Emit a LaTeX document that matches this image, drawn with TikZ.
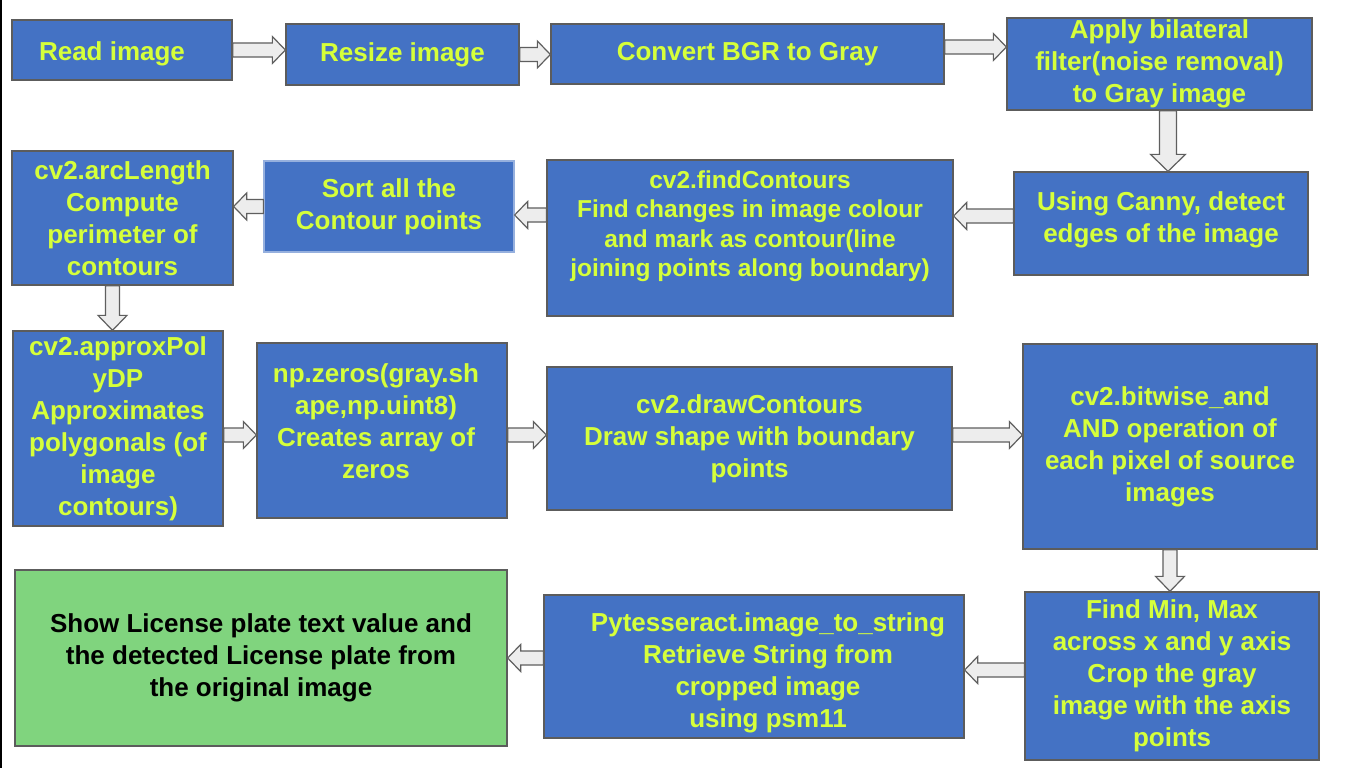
\documentclass[tikz,border=0pt]{standalone}
\usepackage{fontspec}
\setmainfont{Liberation Sans}
\usetikzlibrary{calc}

\definecolor{boxblue}{RGB}{68,114,196}
\definecolor{boxedge}{RGB}{92,92,92}
\definecolor{lightedge}{RGB}{150,176,222}
\definecolor{labelgreen}{RGB}{214,255,58}
\definecolor{showgreen}{RGB}{128,212,126}
\definecolor{arrowfill}{RGB}{237,237,237}
\definecolor{arrowedge}{RGB}{95,95,95}
\newcommand{\boxfont}{\fontsize{26}{32}\selectfont\bfseries}

\begin{document}
\begin{tikzpicture}[x=1pt, y=-1pt,
    box/.style={draw=boxedge, fill=boxblue, line width=1.3pt, text=labelgreen,
        font=\boxfont, align=center, inner sep=0pt},
    txt/.style={text=labelgreen, font=\boxfont, align=center, inner sep=0pt},
    % block arrow: shaft half width, head half width, head length, direction x, direction y
    barrow/.style n args={5}{draw=arrowedge, fill=arrowfill, line width=1.2pt,
        to path={($(\tikztostart)+({-(#5)*(#1)},{(#4)*(#1)})$)
            -- ($(\tikztotarget)+({-(#3)*(#4)-(#5)*(#1)},{-(#3)*(#5)+(#4)*(#1)})$)
            -- ($(\tikztotarget)+({-(#3)*(#4)-(#5)*(#2)},{-(#3)*(#5)+(#4)*(#2)})$)
            -- (\tikztotarget)
            -- ($(\tikztotarget)+({-(#3)*(#4)+(#5)*(#2)},{-(#3)*(#5)-(#4)*(#2)})$)
            -- ($(\tikztotarget)+({-(#3)*(#4)+(#5)*(#1)},{-(#3)*(#5)-(#4)*(#1)})$)
            -- ($(\tikztostart)+({(#5)*(#1)},{-(#4)*(#1)})$) -- cycle}},
    rarrow/.style={barrow={7}{13.5}{13}{1}{0}},
    larrow/.style={barrow={7}{13.5}{13}{-1}{0}},
    darrow/.style={barrow={7}{14.5}{15}{0}{1}}]

    \fill[white] (0,0) rectangle (1366,768);
    \useasboundingbox (0,0) rectangle (1366,768);
    \draw[line width=1.5pt] (0.75,0) -- (0.75,768);

    % Row 1
    \node[box, minimum width=220, minimum height=60] (read) at (122,50) {};
    \node[txt] (read-t) at ([xshift=-10pt, yshift=-4pt]read.center) {Read image};
    \node[box, minimum width=233, minimum height=61] (resize) at (402.5,54.5) {Resize image};
    \node[box, minimum width=393, minimum height=60] (convert) at (747.5,54) {Convert BGR to Gray};
    \node[box, minimum width=305, minimum height=92] (bilat) at (1159.5,64)
        {Apply bilateral\\filter(noise removal)\\to Gray image};

    % Row 2
    \node[box, minimum width=294, minimum height=103] (canny) at (1161,223.5) {};
    \node[txt] (canny-t) at ([yshift=4pt]canny.center) {Using Canny, detect\\edges of the image};
    \node[box, minimum width=406, minimum height=156] (findc) at (750,238) {};
    \node[txt, font=\fontsize{24.5}{29.5}\selectfont\bfseries] (findc-t) at ([yshift=12pt]findc.center)
        {cv2.findContours\\Find changes in image colour\\and mark as contour(line\\joining points along boundary)};
    \node[box, draw=lightedge, minimum width=250, minimum height=91] (sortc) at (389,206.5)
        {Sort all the\\Contour points};
    \node[box, minimum width=221, minimum height=134] (arclen) at (122.5,218)
        {cv2.arcLength\\Compute\\perimeter of\\contours};

    % Row 3
    \node[box, minimum width=210, minimum height=195] (approx) at (118,428.5)
        {cv2.approxPol\\yDP\\Approximates\\polygonals (of\\image\\contours)};
    \node[box, minimum width=250, minimum height=175] (zeros) at (382,430.5) {};
    \node[txt] (zeros-t) at ([xshift=-6pt, yshift=9.5pt]zeros.center)
        {np.zeros(gray.sh\\ape,np.uint8)\\Creates array of\\zeros};
    \node[box, minimum width=405, minimum height=143] (drawc) at (749.5,438.5)
        {cv2.drawContours\\Draw shape with boundary\\points};
    \node[box, minimum width=294, minimum height=205] (bitand) at (1170,446.5)
        {cv2.bitwise\_and\\AND operation of\\each pixel of source\\images};

    % Row 4
    \node[box, minimum width=294, minimum height=168] (minmax) at (1172,676)
        {Find Min, Max\\across x and y axis\\Crop the gray\\image with the axis\\points};
    \node[box, minimum width=420, minimum height=143] (tess) at (754,666.5) {};
    \node[txt] (tess-t) at ([xshift=14pt, yshift=-6.5pt]tess.center)
        {Pytesseract.image\_to\_string\\Retrieve String from\\cropped image\\using psm11};
    \node[box, fill=showgreen, text=black, minimum width=492, minimum height=176] (show) at (261,658)
        {Show License plate text value and\\the detected License plate from\\the original image};

    % Arrows, row 1
    \draw[rarrow] (read.east) to (read.east -| resize.west);
    \draw[rarrow] (resize.east) to (resize.east -| convert.west);
    \coordinate (c1) at ([yshift=7pt]convert.east);
    \draw[rarrow] (c1) to (c1 -| bilat.west);
    \coordinate (c2) at ([xshift=8.5pt]bilat.south);
    \draw[barrow={8.5}{17.5}{17}{0}{1}] (c2) to (c2 |- canny.north);

    % Arrows, row 2
    \coordinate (c3) at ([yshift=7.5pt]canny.west);
    \draw[larrow] (c3) to (c3 -| findc.east);
    \coordinate (c4) at ([yshift=23pt]findc.west);
    \draw[larrow] (c4) to (c4 -| sortc.east);
    \draw[larrow] (sortc.west) to (sortc.west -| arclen.east);
    \coordinate (c5) at ([xshift=-10pt]arclen.south);
    \draw[darrow] (c5) to (c5 |- approx.north);

    % Arrows, row 3
    \coordinate (c6) at ([yshift=-6.5pt]approx.east);
    \draw[rarrow] (c6) to (c6 -| zeros.west);
    \coordinate (c7) at ([yshift=-4.5pt]zeros.east);
    \draw[rarrow] (c7) to (c7 -| drawc.west);
    \coordinate (c8) at ([yshift=3.5pt]drawc.east);
    \draw[rarrow] (c8) to (c8 -| bitand.west);
    \draw[darrow] (bitand.south) to (bitand.south |- minmax.north);

    % Arrows, row 4
    \coordinate (c9) at ([yshift=6pt]minmax.west);
    \draw[larrow] (c9) to (c9 -| tess.east);
    \coordinate (c10) at ([yshift=8.5pt]tess.west);
    \draw[larrow] (c10) to (c10 -| show.east);
\end{tikzpicture}
\end{document}
